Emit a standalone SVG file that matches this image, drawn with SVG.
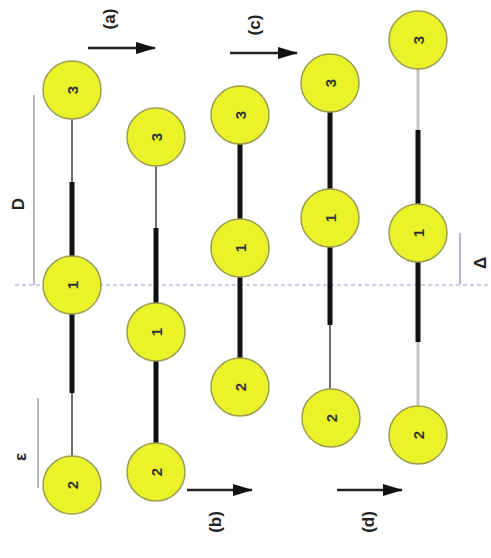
<svg xmlns="http://www.w3.org/2000/svg" width="491" height="558" viewBox="0 0 491 558">
  <style>
    .node circle { fill: #eaf22a; stroke: #9c9c50; stroke-width: 1.5; }
    .node text { font-family: "Liberation Sans", Arial, sans-serif; font-size: 15px; font-weight: bold; fill: #333; text-anchor: middle; dominant-baseline: central; }
    .thin { stroke: #6f6f6f; stroke-width: 2; fill: none; }
    .faint { stroke: #c4c4c4; stroke-width: 3; fill: none; }
    .thick { stroke: #111; stroke-width: 5; fill: none; }
    .guide { stroke: #b8b8d4; stroke-width: 2; fill: none; }
    .axis { stroke: #9a9ad0; stroke-width: 1.2; stroke-dasharray: 4 3; fill: none; }
    .flow { stroke: #222; stroke-width: 2.5; fill: none; marker-end: url(#head); }
    .lbl { font-family: "Liberation Sans", Arial, sans-serif; font-size: 17px; font-weight: bold; fill: #222; text-anchor: middle; dominant-baseline: central; }
  </style>
  <defs>
    <marker id="head" viewBox="0 0 20 12" refX="19" refY="6" markerWidth="8" markerHeight="4.8" orient="auto" markerUnits="strokeWidth">
      <path d="M0,0 L20,6 L0,12 z" fill="#111"/>
    </marker>
  </defs>
  <rect width="491" height="558" fill="#fff"/>

  <!-- reference axis and dimension guides -->
  <g id="guides">
    <line class="axis" x1="15" y1="285" x2="491" y2="285"/>
    <line class="guide" x1="34" y1="95" x2="34" y2="285"/>
    <line class="guide" x1="38" y1="398" x2="38" y2="488"/>
    <line class="guide" x1="460" y1="233" x2="460" y2="284"/>
    <text class="lbl" transform="translate(18,204) rotate(-90)">D</text>
    <text class="lbl" font-size="19" transform="translate(20,457) rotate(-90)">ε</text>
    <text class="lbl" font-size="19" transform="translate(480,263) rotate(-90)">Δ</text>
  </g>

  <!-- bonds between beads -->
  <g id="connectors">
    <line class="thin" x1="72" y1="119" x2="72" y2="182"/>
    <line class="thick" x1="72" y1="182" x2="72" y2="256"/>
    <line class="thick" x1="72" y1="314" x2="72" y2="393"/>
    <line class="thin" x1="72" y1="393" x2="72" y2="456"/>

    <line class="thin" x1="156" y1="166" x2="156" y2="228"/>
    <line class="thick" x1="156" y1="228" x2="156" y2="303"/>
    <line class="thick" x1="156" y1="361" x2="156" y2="443"/>

    <line class="thick" x1="240" y1="144" x2="240" y2="219"/>
    <line class="thick" x1="240" y1="277" x2="240" y2="358"/>

    <line class="thick" x1="330" y1="112" x2="330" y2="189"/>
    <line class="thick" x1="330" y1="247" x2="330" y2="325"/>
    <line class="thin" x1="330" y1="325" x2="330" y2="389"/>

    <line class="faint" x1="418" y1="69" x2="418" y2="130"/>
    <line class="thick" x1="418" y1="130" x2="418" y2="204"/>
    <line class="thick" x1="418" y1="262" x2="418" y2="342"/>
    <line class="faint" x1="418" y1="342" x2="418" y2="406"/>

    <!-- step arrows -->
    <line class="flow" x1="88" y1="48" x2="155" y2="48"/>
    <line class="flow" x1="230" y1="53" x2="297" y2="53"/>
    <line class="flow" x1="187" y1="490" x2="252" y2="490"/>
    <line class="flow" x1="337" y1="490" x2="402" y2="490"/>
    <text class="lbl" transform="translate(109,19) rotate(-90)">(a)</text>
    <text class="lbl" transform="translate(254,25) rotate(-90)">(c)</text>
    <text class="lbl" transform="translate(215,522) rotate(-90)">(b)</text>
    <text class="lbl" transform="translate(368,522) rotate(-90)">(d)</text>
  </g>

  <!-- beads -->
  <g id="a3" class="node"><circle cx="72" cy="90" r="29"/><text transform="translate(72,90) rotate(-90)">3</text></g>
  <g id="a1" class="node"><circle cx="72" cy="285" r="29"/><text transform="translate(72,285) rotate(-90)">1</text></g>
  <g id="a2" class="node"><circle cx="72" cy="485" r="29"/><text transform="translate(72,485) rotate(-90)">2</text></g>

  <g id="b3" class="node"><circle cx="156" cy="137" r="29"/><text transform="translate(156,137) rotate(-90)">3</text></g>
  <g id="b1" class="node"><circle cx="156" cy="332" r="29"/><text transform="translate(156,332) rotate(-90)">1</text></g>
  <g id="b2" class="node"><circle cx="156" cy="472" r="29"/><text transform="translate(156,472) rotate(-90)">2</text></g>

  <g id="c3" class="node"><circle cx="240" cy="115" r="29"/><text transform="translate(240,115) rotate(-90)">3</text></g>
  <g id="c1" class="node"><circle cx="240" cy="248" r="29"/><text transform="translate(240,248) rotate(-90)">1</text></g>
  <g id="c2" class="node"><circle cx="240" cy="387" r="29"/><text transform="translate(240,387) rotate(-90)">2</text></g>

  <g id="d3" class="node"><circle cx="330" cy="83" r="29"/><text transform="translate(330,83) rotate(-90)">3</text></g>
  <g id="d1" class="node"><circle cx="330" cy="218" r="29"/><text transform="translate(330,218) rotate(-90)">1</text></g>
  <g id="d2" class="node"><circle cx="331" cy="418" r="29"/><text transform="translate(331,418) rotate(-90)">2</text></g>

  <g id="e3" class="node"><circle cx="418" cy="40" r="29"/><text transform="translate(418,40) rotate(-90)">3</text></g>
  <g id="e1" class="node"><circle cx="418" cy="233" r="29"/><text transform="translate(418,233) rotate(-90)">1</text></g>
  <g id="e2" class="node"><circle cx="418" cy="435" r="29"/><text transform="translate(418,435) rotate(-90)">2</text></g>
</svg>
